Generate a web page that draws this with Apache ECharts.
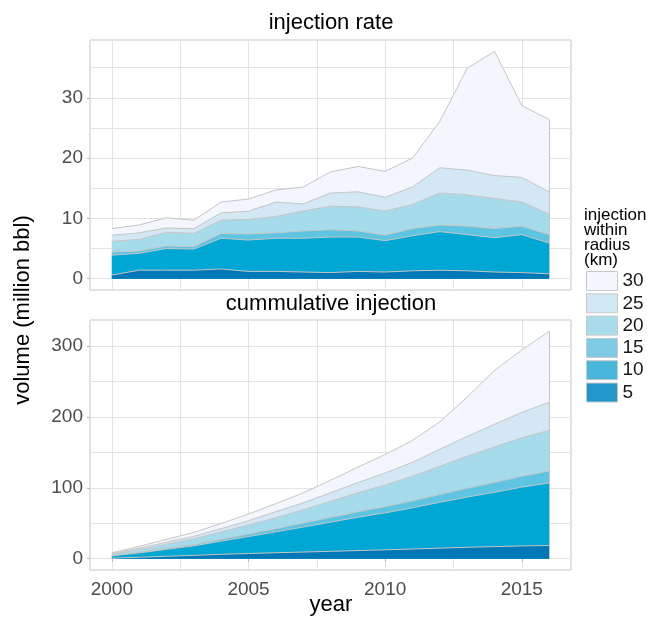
<!DOCTYPE html>
<html>
<head>
<meta charset="utf-8">
<script src="https://cdn.jsdelivr.net/npm/echarts@6/dist/echarts.min.js"></script>
<style>
html,body{margin:0;padding:0;background:#fff;}
#chart{width:647px;height:617px;}
</style>
</head>
<body>
<div id="chart"></div>
<script>
// ---- data ----
const years = [2000,2001,2002,2003,2004,2005,2006,2007,2008,2009,2010,2011,2012,2013,2014,2015,2016];
const radii = ['30','25','20','15','10','5'];

// injection rate within radius (million bbl)
const rate30 = [8.3,8.9,10.1,9.7,12.7,13.2,14.7,15.2,17.7,18.6,17.8,20.0,26.1,34.9,37.7,28.7,26.4];
const rate25 = [7.2,7.6,8.4,8.3,10.9,11.2,12.7,12.4,14.2,14.4,13.5,15.2,18.4,18.0,17.1,16.8,14.4];
const rate20 = [6.2,6.5,7.7,7.5,9.7,9.8,10.3,11.2,12.0,11.9,11.2,12.3,14.2,13.9,13.3,12.7,10.7];
const rate15 = [4.4,4.6,5.4,5.3,7.5,7.4,7.6,7.9,8.1,7.9,7.2,8.3,8.9,8.7,8.3,8.7,7.3];
const rate10 = [3.9,4.2,5.0,4.9,6.7,6.4,6.7,6.7,6.9,6.9,6.3,7.1,7.8,7.3,6.8,7.3,5.9];
const rate5  = [0.6,1.4,1.4,1.4,1.6,1.2,1.2,1.1,1.0,1.2,1.1,1.3,1.4,1.3,1.1,1.0,0.8];

// cumulative injection within radius (million bbl)
const cum30 = [8.3,17.2,27.3,37.0,49.7,62.9,77.6,92.8,110.5,129.1,146.9,166.9,193.0,227.9,265.6,294.3,320.7];
const cum25 = [7.2,14.8,23.2,31.5,42.4,53.6,66.3,78.7,92.9,107.3,120.8,136.0,154.4,172.4,189.5,206.3,220.7];
const cum20 = [6.2,12.7,20.4,27.9,37.6,47.4,57.7,68.9,80.9,92.8,104.0,116.3,130.5,144.4,157.7,170.4,181.1];
const cum15 = [4.4,9.0,14.4,19.7,27.2,34.6,42.2,50.1,58.2,66.1,73.3,81.6,90.5,99.2,107.5,116.2,123.5];
const cum10 = [3.9,8.1,13.1,18.0,24.7,31.1,37.8,44.5,51.4,58.3,64.6,71.7,79.5,86.8,93.6,100.9,106.8];
const cum5  = [0.6,2.0,3.3,4.6,6.1,7.2,8.3,9.3,10.3,11.4,12.4,13.6,14.8,16.0,17.0,17.9,18.6];

const yTicksTop = [0,10,20,30];
const yTicksBottom = [0,100,200,300];
const xTicks = [2000,2005,2010,2015];

// ---- styling ----
const FONT = "'Liberation Sans', Arial, Helvetica, sans-serif";
const areaColors = {'30':'#f3f7fd','25':'#d3e7f5','20':'#a6dbeb','15':'#5ec4e2','10':'#00a6d4','5':'#0077b6'};
const keyColors  = {'30':'#f4f7fd','25':'#d2e9f5','20':'#a9dcea','15':'#7fcbe6','10':'#49b6dc','5':'#2196c8'};
const rateSets = {'30':rate30,'25':rate25,'20':rate20,'15':rate15,'10':rate10,'5':rate5};
const cumSets  = {'30':cum30,'25':cum25,'20':cum20,'15':cum15,'10':cum10,'5':cum5};

const OUTLINE = '#c6c6c6';
const gridLine = {show:true, lineStyle:{color:'#e3e3e3', width:1}};
const tickStyle = {show:true, length:3, lineStyle:{color:'#b3b3b3', width:1}};
const Y_TOP = [-1.885, 39.585], Y_BOT = [-16.04, 336.7], X_RANGE = [1999.2, 2016.8];

function pairs(vals){ return years.map((y,i)=>[y, vals[i]]); }
function mkSeries(set, gi){
  const last = years.length - 1;
  return radii.map(r => {
    const s = {
      name: r, type:'line', xAxisIndex: gi, yAxisIndex: gi,
      data: pairs(set[r]), showSymbol:false, symbol:'none',
      lineStyle:{color:OUTLINE, width:1},
      areaStyle:{color:areaColors[r], opacity:1},
      emphasis:{disabled:true}, animation:false
    };
    if (r === radii[0]) {
      // polygon outline closing edge at the last year
      s.markLine = {
        silent:true, symbol:['none','none'], label:{show:false},
        lineStyle:{color:OUTLINE, width:1, type:'solid'},
        data:[[{coord:[years[last], 0]}, {coord:[years[last], set[r][last]]}]]
      };
    }
    return s;
  });
}
// labelled axes (ticks / labels only at the major breaks)
function yAxisMain(gi, range, ticks){
  return {
    type:'value', gridIndex: gi, min:range[0], max:range[1],
    axisLine:{show:false}, splitLine:{show:false},
    axisTick:Object.assign({customValues: ticks}, tickStyle),
    axisLabel:{fontFamily:FONT, fontSize:19, color:'#4d4d4d', margin:7,
      customValues: ticks, formatter: v => String(v)}
  };
}
function xAxisMain(gi, showLabels){
  return {
    type:'value', gridIndex: gi, min:X_RANGE[0], max:X_RANGE[1],
    axisLine:{show:false}, splitLine:{show:false},
    axisTick: showLabels ? Object.assign({customValues: xTicks}, tickStyle) : {show:false},
    axisLabel: showLabels ? {fontFamily:FONT, fontSize:19, color:'#4d4d4d', margin:10,
      customValues: xTicks, formatter: v => String(v)} : {show:false}
  };
}
// grid-line-only axes (major + minor breaks)
function gridAxis(gi, range, step, pos){
  return {
    type:'value', gridIndex: gi, min:range[0], max:range[1], minInterval:step, maxInterval:step, splitNumber:8,
    position: pos, axisLine:{show:false}, axisTick:{show:false}, axisLabel:{show:false},
    splitLine: gridLine
  };
}

const chart = echarts.init(document.getElementById('chart'), null, {renderer:'canvas'});
chart.setOption({
  animation:false,
  backgroundColor:'#ffffff',
  grid:[
    {left:90, top:40, width:481, height:250, show:true, borderColor:'#c4c4c4', borderWidth:1, backgroundColor:'#fff'},
    {left:90, top:320, width:481, height:250, show:true, borderColor:'#c4c4c4', borderWidth:1, backgroundColor:'#fff'}
  ],
  xAxis:[xAxisMain(0,false), xAxisMain(1,true), gridAxis(0, X_RANGE, 2.5, 'top'), gridAxis(1, X_RANGE, 2.5, 'top')],
  yAxis:[
    yAxisMain(0, Y_TOP, yTicksTop),
    yAxisMain(1, Y_BOT, yTicksBottom),
    gridAxis(0, Y_TOP, 5, 'right'),
    gridAxis(1, Y_BOT, 50, 'right')
  ],
  legend:{
    left:586, top:271, orient:'vertical', icon:'rect', padding:0,
    itemWidth:31, itemHeight:19, itemGap:2.3,
    selectedMode:false,
    textStyle:{fontFamily:FONT, fontSize:19, color:'#1a1a1a', lineHeight:19},
    data: radii.map(r => ({name:r, itemStyle:{color:keyColors[r], borderColor:'#c8c8c8', borderWidth:1}}))
  },
  graphic:[
    {type:'text', x:331, y:23, style:{text:'injection rate', font:'22px '+FONT, fill:'#000', align:'center', verticalAlign:'middle'}},
    {type:'text', x:331, y:304, style:{text:'cummulative injection', font:'22px '+FONT, fill:'#000', align:'center', verticalAlign:'middle'}},
    {type:'text', x:331, y:605, style:{text:'year', font:'22px '+FONT, fill:'#000', align:'center', verticalAlign:'middle'}},
    {type:'text', x:23, y:310, rotation:Math.PI/2, style:{text:'volume (million bbl)', font:'22px '+FONT, fill:'#000', align:'center', verticalAlign:'middle'}},
    {type:'text', x:584, y:208, style:{text:'injection\nwithin\nradius\n(km)', font:'17px '+FONT, lineHeight:15, fill:'#000', align:'left', verticalAlign:'top'}}
  ],
  series: mkSeries(rateSets,0).concat(mkSeries(cumSets,1))
});
</script>
</body>
</html>
